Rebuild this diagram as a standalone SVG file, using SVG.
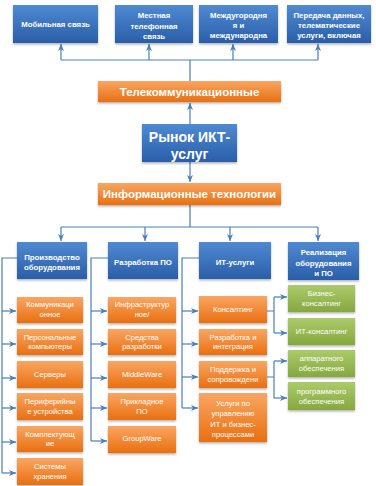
<svg xmlns="http://www.w3.org/2000/svg" width="376" height="486" viewBox="0 0 376 486">
<defs>
<linearGradient id="gb" x1="0" y1="0" x2="0" y2="1"><stop offset="0" stop-color="#4F8AD2"/><stop offset="1" stop-color="#2A5EA8"/></linearGradient>
<linearGradient id="go" x1="0" y1="0" x2="0" y2="1"><stop offset="0" stop-color="#F9A662"/><stop offset="1" stop-color="#E96F10"/></linearGradient>
<linearGradient id="gg" x1="0" y1="0" x2="0" y2="1"><stop offset="0" stop-color="#ABCB6C"/><stop offset="1" stop-color="#86A83E"/></linearGradient>
<filter id="sh" x="-10%" y="-10%" width="120%" height="140%"><feDropShadow dx="0" dy="1.5" stdDeviation="1" flood-color="#000" flood-opacity="0.3"/></filter>
<marker id="ar" markerUnits="userSpaceOnUse" markerWidth="8" markerHeight="7" refX="7" refY="3.5" orient="auto"><path d="M0,0.5 L7,3.5 L0,6.5 L2,3.5 Z" fill="#4A7EBB"/></marker>
</defs>
<style>
.b{fill:url(#gb);filter:url(#sh)}
.o{fill:url(#go);filter:url(#sh)}
.g{fill:url(#gg);filter:url(#sh)}
text{font-family:"Liberation Sans",Arial,sans-serif;fill:#fff;text-anchor:middle}
.t8{font-size:7.8px;font-weight:bold}
.s{font-size:7.6px}
.big{font-size:11.5px;font-weight:bold}
.h{font-size:14px;font-weight:bold}
.c{fill:none;stroke:#4A7EBB;stroke-width:1.2}
.a{fill:none;stroke:#4A7EBB;stroke-width:1.2;marker-end:url(#ar)}
</style>
<rect width="376" height="486" fill="#fff"/>

<g id="connectors">
<path class="c" d="M190,81 V60 M61,60 H318"/>
<path class="a" d="M61,60 V44"/><path class="a" d="M149,60 V44"/><path class="a" d="M233,60 V44"/><path class="a" d="M318,60 V44"/>
<path class="a" d="M190,124 V103"/>
<path class="a" d="M190,162 V182"/>
<path class="c" d="M190,205 V227 M61,227 H318"/>
<path class="a" d="M61,227 V241"/><path class="a" d="M145,227 V241"/><path class="a" d="M230,227 V241"/><path class="a" d="M318,227 V241"/>
<path class="c" d="M17,258 H2 V473"/>
<path class="a" d="M2,311 H16"/><path class="a" d="M2,344 H16"/><path class="a" d="M2,378 H16"/><path class="a" d="M2,408 H16"/><path class="a" d="M2,442 H16"/><path class="a" d="M2,473 H16"/>
<path class="c" d="M108,258 H91 V441"/>
<path class="a" d="M91,311 H107"/><path class="a" d="M91,344 H107"/><path class="a" d="M91,378 H107"/><path class="a" d="M91,408 H107"/><path class="a" d="M91,441 H107"/>
<path class="c" d="M199,258 H182 V408"/>
<path class="a" d="M182,311 H198"/><path class="a" d="M182,344 H198"/><path class="a" d="M182,377 H198"/><path class="a" d="M182,408 H198"/>
<path class="c" d="M267,311 H274 M274,297 V333"/>
<path class="a" d="M274,297 H287"/><path class="a" d="M274,333 H287"/>
<path class="c" d="M267,377 H274 M274,361 V398"/>
<path class="a" d="M274,361 H287"/><path class="a" d="M274,398 H287"/>
</g>

<g id="top1"><rect class="b" x="13" y="5" width="85" height="38"/><text class="t8" x="55.5" y="27">Мобильная связь</text></g>
<g id="top2"><rect class="b" x="115" y="5" width="78" height="38"/><text class="t8" x="154" y="18">Местная</text><text class="t8" x="154" y="28.5">телефонная</text><text class="t8" x="154" y="38.5">связь</text></g>
<g id="top3"><rect class="b" x="199" y="5" width="79" height="38"/><text class="t8" x="238.5" y="18">Междугородня</text><text class="t8" x="238.5" y="28">я и</text><text class="t8" x="238.5" y="38">международна</text></g>
<g id="top4"><rect class="b" x="287" y="5" width="84" height="38"/><text class="t8" x="329" y="18">Передача данных,</text><text class="t8" x="329" y="28">телематические</text><text class="t8" x="329" y="38">услуги, включая</text></g>

<g id="telecom"><rect class="o" x="98" y="81" width="183" height="21"/><text class="big" x="189.5" y="95.5">Телекоммуникационные</text></g>
<g id="market"><rect class="b" x="142" y="124" width="95" height="38"/><text class="h" x="189.5" y="141.5">Рынок ИКТ-</text><text class="h" x="189.5" y="159">услуг</text></g>
<g id="it"><rect class="o" x="98" y="183" width="183" height="22"/><text class="big" x="189.5" y="198">Информационные технологии</text></g>

<g id="col1"><rect class="b" x="17" y="242" width="70" height="37"/><text class="t8" x="52" y="260">Производство</text><text class="t8" x="52" y="270">оборудования</text></g>
<g id="col2"><rect class="b" x="108" y="242" width="70" height="37"/><text class="t8" x="143" y="265">Разработка ПО</text></g>
<g id="col3"><rect class="b" x="199" y="242" width="72" height="37"/><text class="t8" x="235" y="265">ИТ-услуги</text></g>
<g id="col4"><rect class="b" x="288" y="242" width="71" height="38"/><text class="t8" x="323.5" y="255">Реализация</text><text class="t8" x="323.5" y="265.5">оборудования</text><text class="t8" x="323.5" y="276">и ПО</text></g>

<g id="c1n1"><rect class="o" x="17" y="297" width="66" height="26"/><text class="s" x="50" y="307">Коммуникаци</text><text class="s" x="50" y="316.5">онное</text></g>
<g id="c1n2"><rect class="o" x="17" y="329" width="66" height="26"/><text class="s" x="50" y="339.5">Персональные</text><text class="s" x="50" y="349">компьютеры</text></g>
<g id="c1n3"><rect class="o" x="17" y="361" width="66" height="27"/><text class="s" x="50" y="377">Серверы</text></g>
<g id="c1n4"><rect class="o" x="17" y="393" width="66" height="27"/><text class="s" x="50" y="404">Периферийны</text><text class="s" x="50" y="414">е устройства</text></g>
<g id="c1n5"><rect class="o" x="17" y="426" width="66" height="26"/><text class="s" x="50" y="436.5">Комплектующ</text><text class="s" x="50" y="446">ие</text></g>
<g id="c1n6"><rect class="o" x="17" y="458" width="66" height="27"/><text class="s" x="50" y="469">Системы</text><text class="s" x="50" y="479">хранения</text></g>

<g id="c2n1"><rect class="o" x="108" y="297" width="68" height="26"/><text class="s" x="142" y="307">Инфраструктур</text><text class="s" x="142" y="316.5">ное/</text></g>
<g id="c2n2"><rect class="o" x="108" y="329" width="68" height="26"/><text class="s" x="142" y="339.5">Средства</text><text class="s" x="142" y="349">разработки</text></g>
<g id="c2n3"><rect class="o" x="108" y="361" width="68" height="27"/><text class="s" x="142" y="377">MiddleWare</text></g>
<g id="c2n4"><rect class="o" x="108" y="393" width="68" height="27"/><text class="s" x="142" y="404">Прикладное</text><text class="s" x="142" y="414">ПО</text></g>
<g id="c2n5"><rect class="o" x="108" y="426" width="68" height="27"/><text class="s" x="142" y="440.5">GroupWare</text></g>

<g id="c3n1"><rect class="o" x="199" y="296" width="68" height="27"/><text class="s" x="233" y="312">Консалтинг</text></g>
<g id="c3n2"><rect class="o" x="199" y="329" width="68" height="26"/><text class="s" x="233" y="339.5">Разработка  и</text><text class="s" x="233" y="349">интеграция</text></g>
<g id="c3n3"><rect class="o" x="199" y="361" width="68" height="27"/><text class="s" x="233" y="372">Поддержка  и</text><text class="s" x="233" y="382">сопровождени</text></g>
<g id="c3n4"><rect class="o" x="199" y="393" width="68" height="49"/><text class="s" x="233" y="405.5">Услуги  по</text><text class="s" x="233" y="416">управлению</text><text class="s" x="233" y="426.5">ИТ  и бизнес-</text><text class="s" x="233" y="437">процессами</text></g>

<g id="c4n1"><rect class="g" x="288" y="285" width="67" height="27"/><text class="s" x="321.5" y="296">Бизнес-</text><text class="s" x="321.5" y="306">консалтинг</text></g>
<g id="c4n2"><rect class="g" x="288" y="318" width="67" height="27"/><text class="s" x="321.5" y="334">ИТ-консалтинг</text></g>
<g id="c4n3"><rect class="g" x="288" y="350" width="67" height="27"/><text class="s" x="321.5" y="361">аппаратного</text><text class="s" x="321.5" y="371">обеспечения</text></g>
<g id="c4n4"><rect class="g" x="288" y="382" width="67" height="28"/><text class="s" x="321.5" y="393.5">программного</text><text class="s" x="321.5" y="403.5">обеспечения</text></g>
</svg>
